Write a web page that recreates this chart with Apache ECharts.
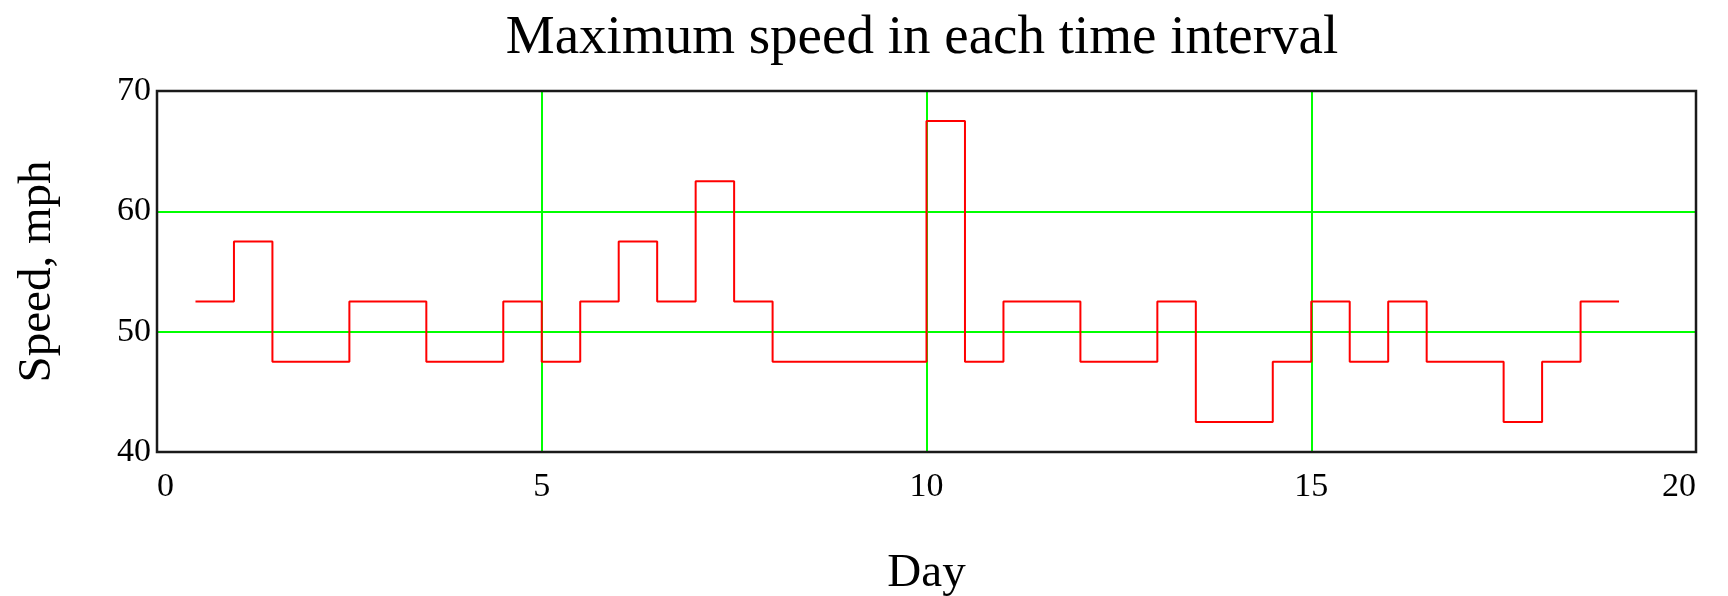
<!DOCTYPE html>
<html>
<head>
<meta charset="utf-8">
<script src="https://cdn.jsdelivr.net/npm/echarts@6/dist/echarts.min.js"></script>
<style>
html,body{margin:0;padding:0;background:#fff;}
#c{width:1728px;height:596px;}
</style>
</head>
<body>
<div id="c"></div>
<script>
const titleText = 'Maximum speed in each time interval';
const xName = 'Day';
const yName = 'Speed, mph';
const days = [0.5,1.0,1.5,2.0,2.5,3.0,3.5,4.0,4.5,5.0,5.5,6.0,6.5,7.0,7.5,8.0,8.5,9.0,9.5,10.0,10.5,11.0,11.5,12.0,12.5,13.0,13.5,14.0,14.5,15.0,15.5,16.0,16.5,17.0,17.5,18.0,18.5,19.0];
const speeds = [52.5,57.5,47.5,47.5,52.5,52.5,47.5,47.5,52.5,47.5,52.5,57.5,52.5,62.5,52.5,47.5,47.5,47.5,47.5,67.5,47.5,52.5,52.5,47.5,47.5,52.5,42.5,42.5,47.5,52.5,47.5,52.5,47.5,47.5,42.5,47.5,52.5,52.5];
const xTicks = [0,5,10,15,20];
const yTicks = [40,50,60,70];

const font = '"Liberation Serif", "Times New Roman", serif';
const chart = echarts.init(document.getElementById('c'), null, {renderer:'canvas'});
chart.setOption({
  animation:false,
  backgroundColor:'#fff',
  title:{
    text:titleText,
    left:917, top:6, textAlign:'center',
    textStyle:{fontFamily:font,fontSize:55,fontWeight:'normal',color:'#000'}
  },
  grid:{left:157,right:32,top:91,bottom:144,show:true,borderColor:'#1a1a1a',borderWidth:2.5,backgroundColor:'transparent',z:4,outerBoundsMode:'none',containLabel:false},
  xAxis:{
    type:'value',min:xTicks[0],max:xTicks[xTicks.length-1],interval:5,
    name:xName,nameLocation:'middle',nameGap:98,
    nameTextStyle:{fontFamily:font,fontSize:47,color:'#000'},
    axisLine:{show:false},axisTick:{show:false},
    axisLabel:{fontFamily:font,fontSize:34,color:'#000',margin:18,alignMinLabel:'left',alignMaxLabel:'right'},
    splitLine:{show:true,showMinLine:false,showMaxLine:false,lineStyle:{color:'#00ff00',width:2}}
  },
  yAxis:{
    type:'value',min:yTicks[0],max:yTicks[yTicks.length-1],interval:10,
    name:yName,nameLocation:'middle',nameGap:96,
    nameTextStyle:{fontFamily:font,fontSize:47,color:'#000'},
    axisLine:{show:false},axisTick:{show:false},
    axisLabel:{fontFamily:font,fontSize:34,color:'#000',margin:6},
    splitLine:{show:true,showMinLine:false,showMaxLine:false,lineStyle:{color:'#00ff00',width:2}}
  },
  series:[{
    type:'line',step:'end',symbol:'none',
    data:days.map((d,i)=>[d,speeds[i]]),
    lineStyle:{color:'#ff0000',width:2},
    z:3
  }]
});
</script>
</body>
</html>
